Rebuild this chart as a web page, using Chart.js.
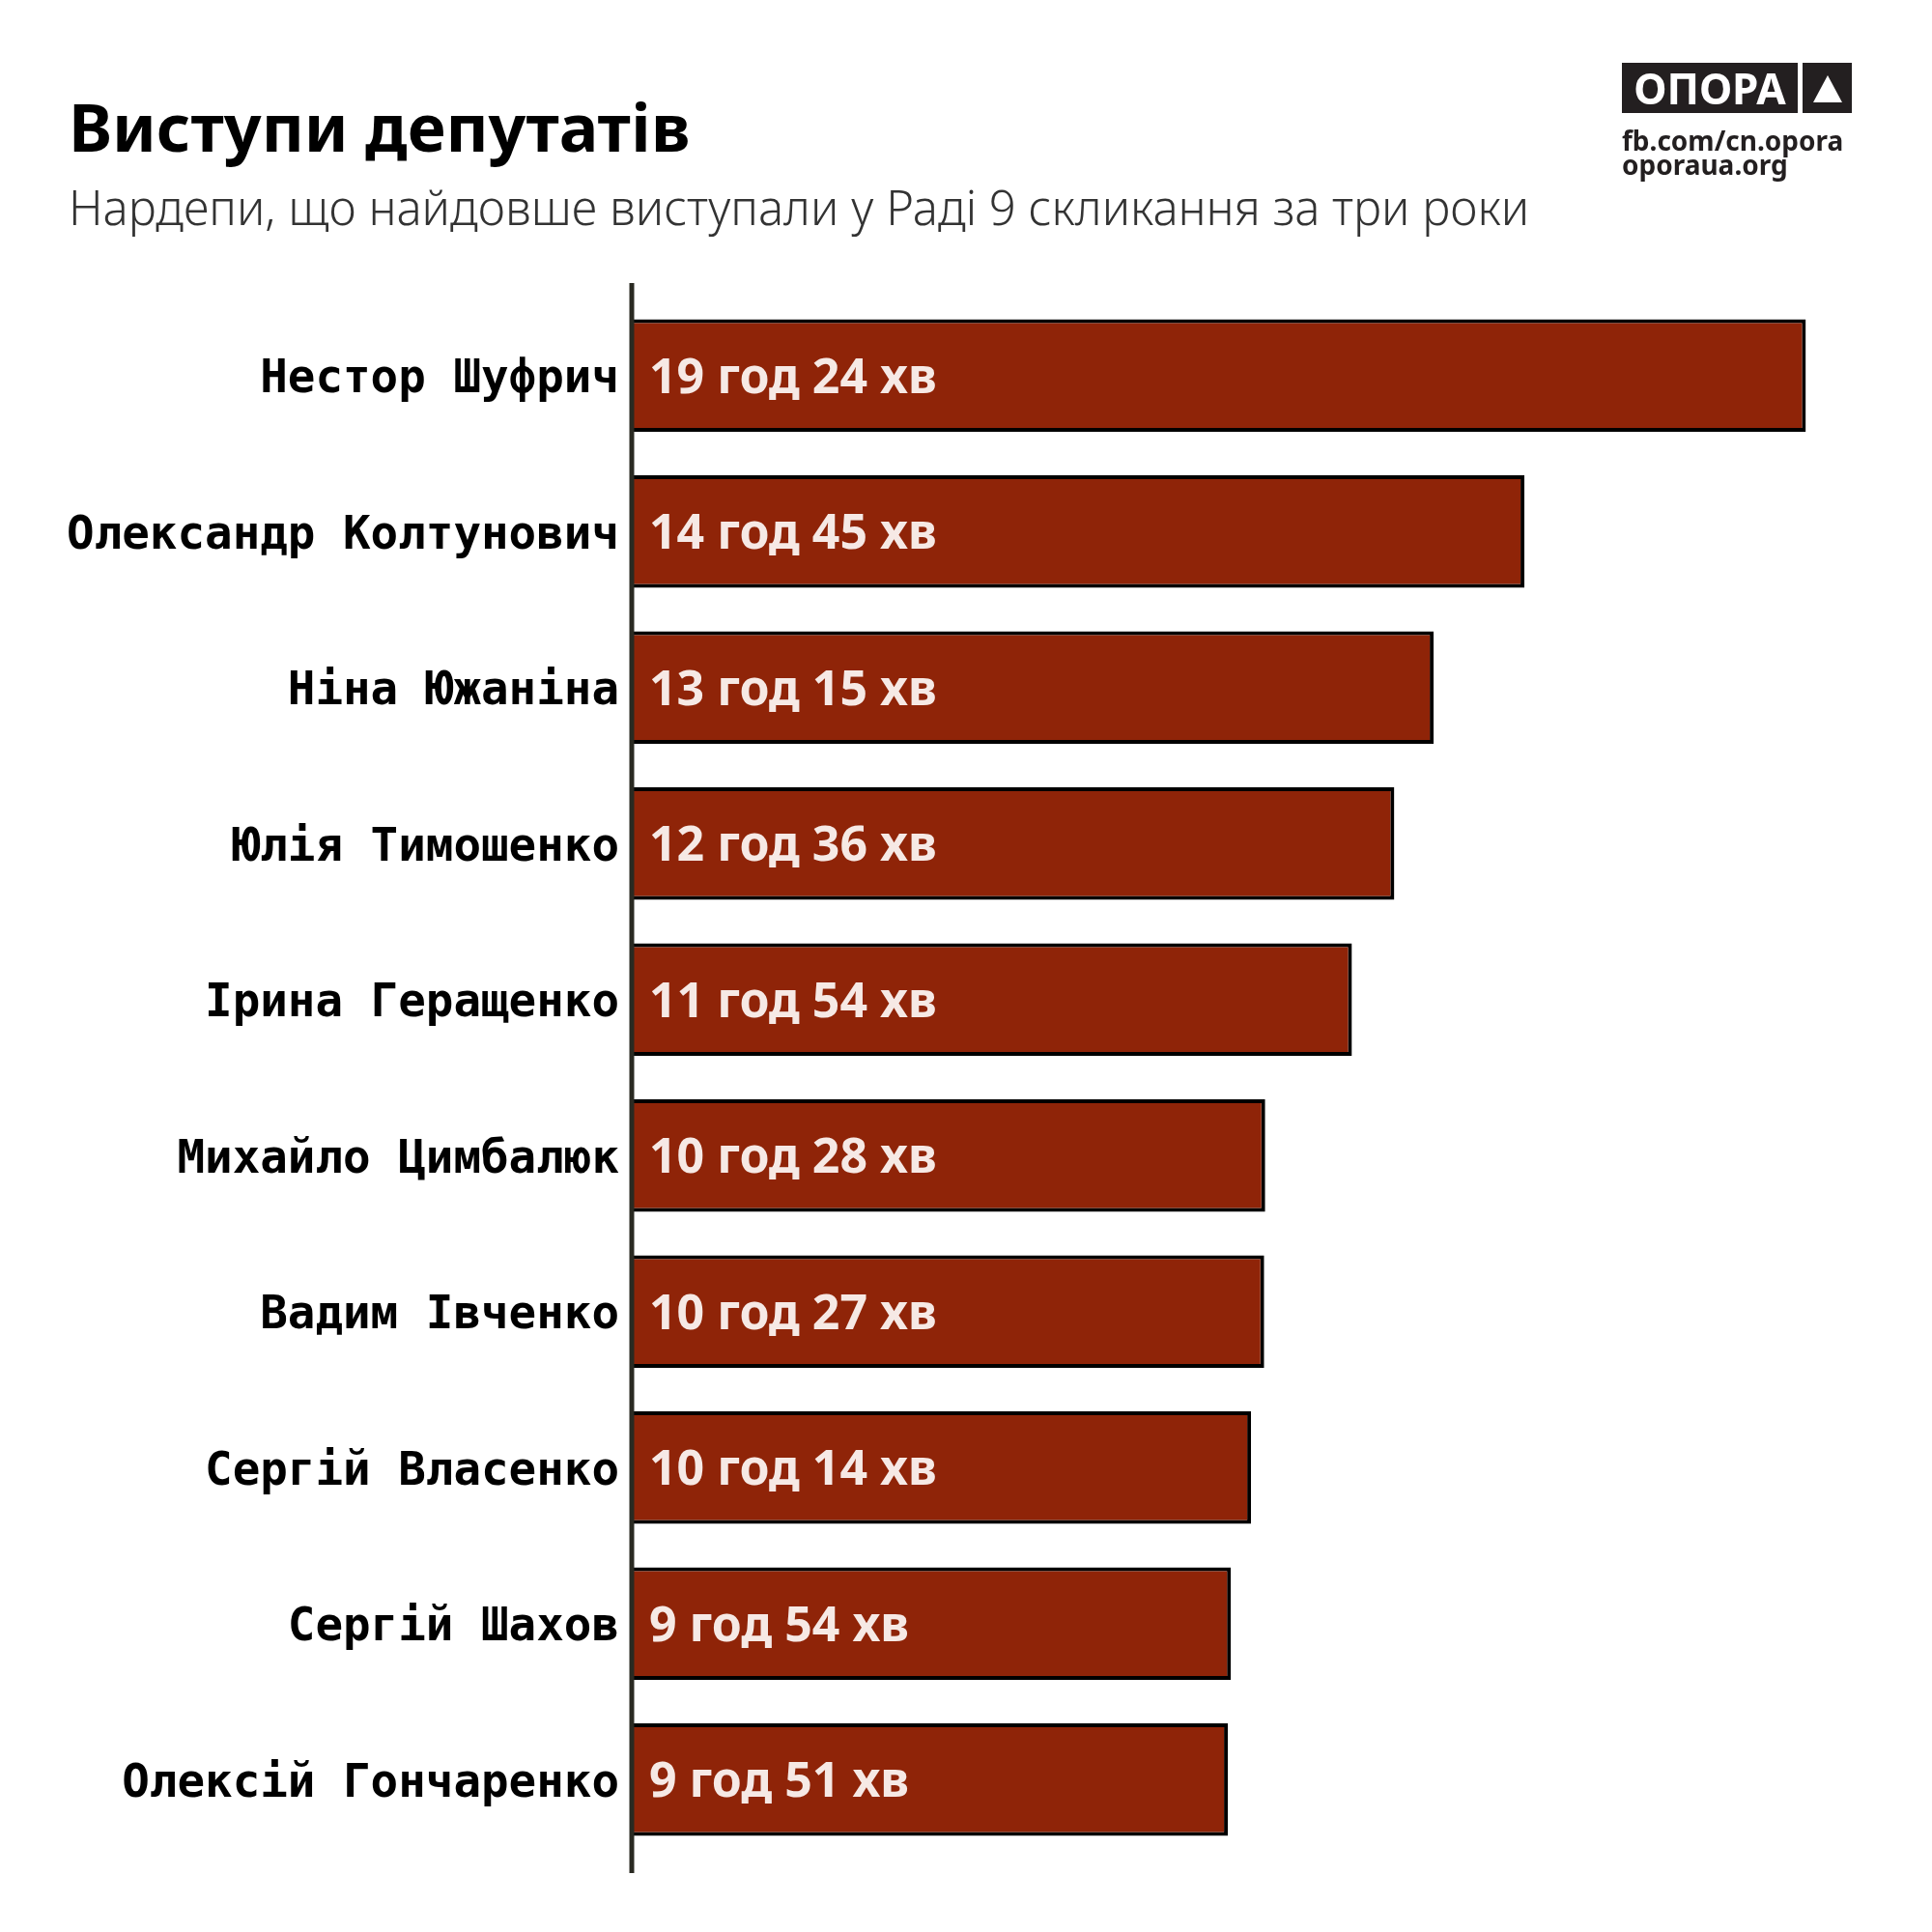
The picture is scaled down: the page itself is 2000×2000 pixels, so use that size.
<!DOCTYPE html>
<html>
<head>
<meta charset="utf-8">
<script src="https://cdn.jsdelivr.net/npm/chart.js@4.4.1/dist/chart.umd.min.js"></script>
<style>
    body { margin: 0; background: #fff; }
    #wrap { position: relative; width: 2000px; height: 2000px; }
    #myChart { position: absolute; left: 0; top: 0; }
    .txt { position: absolute; white-space: nowrap; font-family: "Noto Sans", sans-serif; line-height: 1; }
    #title { left: 71px; top: 97px; font-size: 68px; font-weight: 700; color: #000; }
    #subtitle { left: 71px; top: 190px; font-size: 49px; font-weight: 300; color: #333; }
    #logo-box { position: absolute; left: 1679px; top: 65px; width: 182px; height: 52px; background: #231f20;
        color: #fff; font-family: "Noto Sans", sans-serif; font-weight: 700; font-size: 44px; line-height: 52px; text-align: center; }
    #logo-tri { position: absolute; left: 1866px; top: 65px; width: 51px; height: 52px; background: #231f20; }
    #logo-tri:after { content: ""; position: absolute; left: 11px; top: 13px; border-left: 15px solid transparent;
        border-right: 15px solid transparent; border-bottom: 28px solid #fff; }
    .link { font-size: 28px; font-weight: 700; color: #231f20; left: 1679px; }
</style>
</head>
<body>
<div id="wrap">
    <canvas id="myChart" width="2000" height="2000"></canvas>
    <div class="txt" id="title">Виступи депутатів</div>
    <div class="txt" id="subtitle">Нардепи, що найдовше виступали у Раді 9 скликання за три роки</div>
    <div id="logo-box">ОПОРА</div>
    <div id="logo-tri"></div>
    <div class="txt link" style="top: 131px;">fb.com/cn.opora</div>
    <div class="txt link" style="top: 156px;">oporaua.org</div>
</div>
<script>
const names = [
    'Нестор Шуфрич',
    'Олександр Колтунович',
    'Ніна Южаніна',
    'Юлія Тимошенко',
    'Ірина Геращенко',
    'Михайло Цимбалюк',
    'Вадим Івченко',
    'Сергій Власенко',
    'Сергій Шахов',
    'Олексій Гончаренко'
];
const hours = [19, 14, 13, 12, 11, 10, 10, 10, 9, 9];
const mins = [24, 45, 15, 36, 54, 28, 27, 14, 54, 51];

// total minutes for bar length
const totals = hours.map((h, i) => h * 60 + mins[i]);
const durationLabels = hours.map((h, i) => `${h} год ${mins[i]} хв`);

const barLabels = {
    id: 'barLabels',
    afterDatasetsDraw(chart) {
        const ctx = chart.ctx;
        const area = chart.chartArea;
        const meta = chart.getDatasetMeta(0);
        ctx.save();
        // labels inside the bars
        ctx.font = 'bold 50px "Noto Sans"';
        ctx.fillStyle = '#f6e9e5';
        ctx.textAlign = 'left';
        ctx.textBaseline = 'alphabetic';
        meta.data.forEach(function(bar, i) {
            ctx.fillText(durationLabels[i], bar.base + 18, bar.y + 18);
        });
        // axis line
        ctx.strokeStyle = '#2a2a22';
        ctx.lineWidth = 5;
        ctx.beginPath();
        ctx.moveTo(area.left, area.top - 15);
        ctx.lineTo(area.left, area.bottom + 16);
        ctx.stroke();
        ctx.restore();
    }
};

const ctx = document.getElementById('myChart').getContext('2d');
const chart = new Chart(ctx, {
    type: 'bar',
    data: {
        labels: names,
        datasets: [{
            data: totals,
            backgroundColor: '#8f2408',
            borderColor: '#000',
            borderWidth: 4,
            categoryPercentage: 1,
            barPercentage: 0.72
        }]
    },
    options: {
        indexAxis: 'y',
        responsive: false,
        animation: false,
        layout: {
            padding: { left: 0, right: 93, top: 308, bottom: 77 }
        },
        scales: {
            x: {
                display: false,
                min: 0,
                max: 1200
            },
            y: {
                grid: { display: false, drawTicks: false },
                border: { display: false },
                ticks: {
                    color: '#000',
                    padding: 13,
                    labelOffset: 5,
                    font: { family: '"DejaVu Sans Mono"', weight: 'bold', size: 47.5 }
                },
                afterFit(scale) {
                    scale.width = 654;
                }
            }
        },
        plugins: {
            legend: { display: false },
            tooltip: { enabled: false }
        }
    },
    plugins: [barLabels]
});
</script>
</body>
</html>
